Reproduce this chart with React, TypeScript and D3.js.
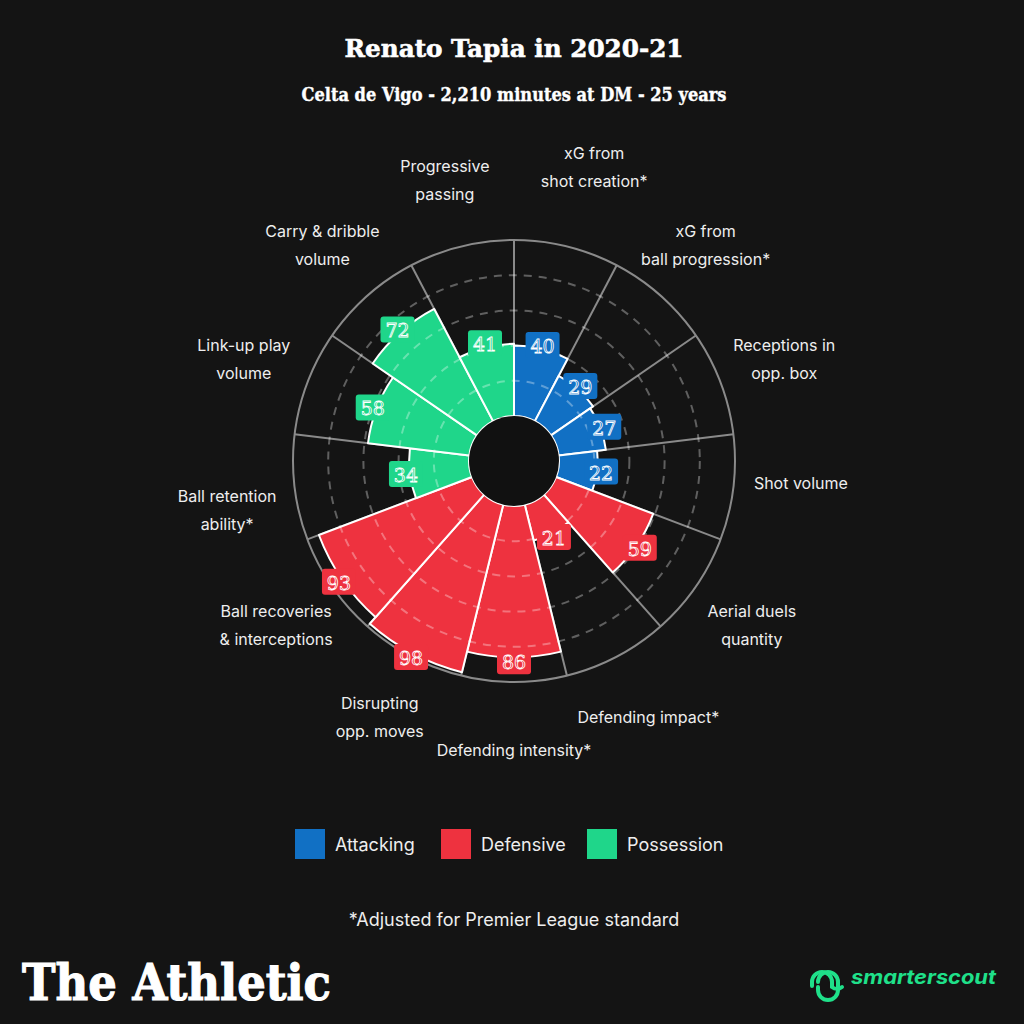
import * as d3 from 'd3';

// pizza chart data, clockwise from 12 o'clock
const metrics: string[][] = [
  ['xG from', 'shot creation*'],
  ['xG from', 'ball progression*'],
  ['Receptions in', 'opp. box'],
  ['Shot volume'],
  ['Aerial duels', 'quantity'],
  ['Defending impact*'],
  ['Defending intensity*'],
  ['Disrupting', 'opp. moves'],
  ['Ball recoveries', '& interceptions'],
  ['Ball retention', 'ability*'],
  ['Link-up play', 'volume'],
  ['Carry & dribble', 'volume'],
  ['Progressive', 'passing'],
];
const values = [40, 29, 27, 22, 59, 21, 86, 98, 93, 34, 58, 72, 41];
const groups = [
  'Attacking', 'Attacking', 'Attacking', 'Attacking',
  'Defensive', 'Defensive', 'Defensive', 'Defensive', 'Defensive',
  'Possession', 'Possession', 'Possession', 'Possession',
];
const groupNames = ['Attacking', 'Defensive', 'Possession'];
const gridTicks = [20, 40, 60, 80];

// hand nudges for a few labels, as in the original layout
const labelNudge: [number, number][] = [
  [11, -13], [0, 0], [0, 0], [0, -13], [0, 0], [0, 0], [0, 0],
  [0, 0], [0, 0], [0, 14], [0, 0], [0, 0], [0, 0],
];

const BG = '#141414';
const FONT = 'Inter, "Noto Sans", sans-serif';
const SLAB = '"DejaVu Serif", serif';

export default function App() {
  const cx = 514;
  const cy = 461;
  const r0 = 45;
  const R = 221;

  const color = d3.scaleOrdinal<string, string>()
    .domain(groupNames)
    .range(['#1170c4', '#ee323f', '#1fd68a']);

  const r = d3.scaleLinear().domain([0, 100]).range([r0, R]);
  const step = (2 * Math.PI) / values.length;

  const arc = d3.arc<number>()
    .innerRadius(r0)
    .outerRadius(d => r(d))
    .startAngle((_, i) => i * step)
    .endAngle((_, i) => (i + 1) * step);

  const polar = (rad: number, ang: number): [number, number] =>
    [rad * Math.sin(ang), -rad * Math.cos(ang)];

  return (
    <div style={{ position: 'absolute', left: 0, top: 0, width: 1024, height: 1024, background: BG }}>
      <svg width={1024} height={1024} viewBox="0 0 1024 1024">
        <rect width={1024} height={1024} fill={BG} />

        <text x={514} y={57} textAnchor="middle" fill="#fff" stroke="#fff" strokeWidth={0.6} fontFamily={SLAB} fontWeight="bold"
          fontSize={25} textLength={339} lengthAdjust="spacingAndGlyphs">Renato Tapia in 2020-21</text>
        <text x={514} y={101} textAnchor="middle" fill="#fff" stroke="#fff" strokeWidth={0.4} fontFamily={SLAB} fontWeight="bold"
          fontSize={18} textLength={425} lengthAdjust="spacingAndGlyphs">Celta de Vigo - 2,210 minutes at DM - 25 years</text>

        <g transform={`translate(${cx},${cy})`}>
          {/* spokes */}
          {values.map((_, i) => {
            const [x1, y1] = polar(r0, i * step);
            const [x2, y2] = polar(R, i * step);
            return <line key={i} x1={x1} y1={y1} x2={x2} y2={y2} stroke="#8a8a8a" strokeWidth={2} />;
          })}

          {/* bars */}
          {values.map((v, i) => (
            <path key={i} d={arc(v, i) || ''} fill={color(groups[i])} stroke="#fff" strokeWidth={2} strokeLinejoin="round" />
          ))}

          {/* grid rings */}
          {gridTicks.map(t => (
            <circle key={t} r={r(t)} fill="none" stroke="rgba(255,255,255,0.32)" strokeWidth={2} strokeDasharray="8,7" />
          ))}
          <circle r={R} fill="none" stroke="#8a8a8a" strokeWidth={2} />
          <circle r={r0} fill="#111" />

          {/* value boxes */}
          {values.map((v, i) => {
            const [x, y] = polar(r(v) + 4, (i + 0.5) * step);
            return (
              <g key={i} transform={`translate(${x},${y})`}>
                <rect x={-17} y={-13} width={34} height={26} rx={3} fill={color(groups[i])} />
                <text y={1} textAnchor="middle" dominantBaseline="central" fontFamily={SLAB}
                  fontSize={19} fill={color(groups[i])} stroke="#fff" strokeWidth={0.8}>{v}</text>
              </g>
            );
          })}

          {/* metric labels */}
          {metrics.map((lines, i) => {
            const [x, y] = polar(289, (i + 0.5) * step);
            const [nx, ny] = labelNudge[i];
            return (
              <text key={i} textAnchor="middle" fill="#eee" fontFamily={FONT} fontSize={16}>
                {lines.map((ln, k) => (
                  <tspan key={k} x={x + nx} y={y + ny + (k - (lines.length - 1) / 2) * 28} dominantBaseline="central">{ln}</tspan>
                ))}
              </text>
            );
          })}
        </g>

        {/* legend */}
        {groupNames.map((g, i) => {
          const x = 295 + i * 146;
          return (
            <g key={g}>
              <rect x={x} y={829} width={30} height={30} fill={color(g)} />
              <text x={x + 40} y={851} fill="#eee" fontFamily={FONT} fontSize={18}>{g}</text>
            </g>
          );
        })}

        <text x={514} y={926} textAnchor="middle" fill="#eee" fontFamily={FONT} fontSize={18}>*Adjusted for Premier League standard</text>

        <text x={22} y={1000} fill="#fff" stroke="#fff" strokeWidth={1.2} fontFamily={SLAB} fontWeight="bold" fontSize={50}
          textLength={309} lengthAdjust="spacingAndGlyphs">The Athletic</text>

        {/* smarterscout mark */}
        <g fill="none" stroke="#1fe08a" strokeWidth={4} strokeLinecap="round">
          <path d="M812,986 v-4 a10,10 0 0 1 20,0 v5 a8,8 0 0 0 10,0" />
          <path d="M822,976 a10,10 0 0 1 20,0 v8 a10,10 0 0 1 -20,0 v-3" transform="translate(-4,6)" />
        </g>
        <text x={851} y={984} fill="#1fe08a" fontFamily={FONT} fontWeight="bold" fontSize={20}
          fontStyle="italic" textLength={145} lengthAdjust="spacingAndGlyphs">smarterscout</text>
      </svg>
    </div>
  );
}
